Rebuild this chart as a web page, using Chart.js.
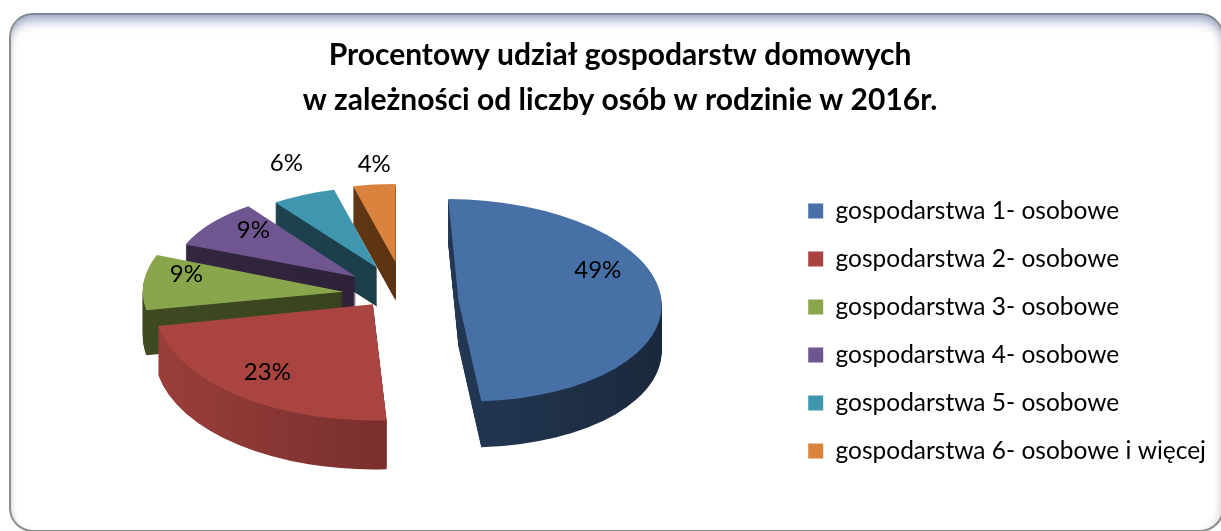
<!DOCTYPE html>
<html>
<head>
<meta charset="utf-8">
<script src="https://cdn.jsdelivr.net/npm/chart.js@4.4.1/dist/chart.umd.min.js"></script>
<style>
  html, body { margin: 0; padding: 0; background: #ffffff; overflow: hidden; }
  #wrap { position: relative; width: 1221px; height: 531px; }
  #frame {
    position: absolute; left: 9px; top: 13px; width: 1215px; height: 519px;
    box-sizing: border-box; border: 2px solid #8e8e8e; border-top-color: #7e8594;
    border-radius: 24px; background: #ffffff;
    box-shadow: inset 0 12px 12px -7px rgba(70, 90, 150, 0.55), inset -10px 0 10px -8px rgba(0,0,0,0.14), inset 4px 0 5px -3px rgba(0,0,0,0.12);
  }
  canvas { position: absolute; left: 0; top: 0; }
</style>
</head>
<body>
<div id="wrap">
  <div id="frame"></div>
  <canvas id="c" width="1221" height="531"></canvas>
</div>
<script>
// ---- data ----
const categories = [
  'gospodarstwa 1- osobowe',
  'gospodarstwa 2- osobowe',
  'gospodarstwa 3- osobowe',
  'gospodarstwa 4- osobowe',
  'gospodarstwa 5- osobowe',
  'gospodarstwa 6- osobowe i więcej'
];
const shares = [49, 23, 9, 9, 6, 4];
const titleLines = [
  'Procentowy udział gospodarstw domowych',
  'w zależności od liczby osób w rodzinie w 2016r.'
];

// ---- style ----
const topColors   = ['#4771A6', '#A94441', '#89A64C', '#6F5691', '#4096AF', '#D9833E'];
const sideLeft    = ['#2c4568', '#9a3e3b', '#3e4a22', '#33273f', '#1f4552', '#6b3c16'];
const sideRight   = ['#1a283c', '#5a2220', '#333e1c', '#261d31', '#183642', '#4e2c10'];
const explode     = [55, 34, 62, 68, 75, 84];
const explodeTurn = [14, 22, 0, 0, 0, 0];
const shear       = [0.1, 0, 0, 0, 0, 0];
const labelPos    = [0.688, 0.788, 0.786, 0.709, 1.228, 0.995];
const labelLift   = [-28, -4, -10, -9, -15, -21];

const pie3d = {
  id: 'pie3d',
  beforeDatasetsDraw(chart, args, o) {
    const ctx = chart.ctx;
    const arcs = chart.getDatasetMeta(0).data;
    if (!arcs.length) return false;
    const cx = arcs[0].x, cy = arcs[0].y, R = arcs[0].outerRadius;
    const geo = arcs.map((el, i) => {
      const mid = (el.startAngle + el.endAngle) / 2;
      const sn = Math.sin(mid);
      const s = 1 + (sn > 0 ? o.perspFront : o.perspBack) * sn;
      const ang = mid + (explodeTurn[i] || 0) * Math.PI / 180;
      const e = explode[i] || 0;
      return { el, i, mid, s, t: o.tilt * (1 + o.perspY * sn), sh: shear[i] || 0,
               ex: e * Math.cos(ang), ey: e * Math.sin(ang), depth: Math.round(o.depth * s) };
    });
    const apply = (g, dy) => {
      ctx.translate(cx, cy + dy);
      ctx.transform(g.s, 0, g.sh * g.s * g.t, g.s * g.t, 0, 0);
      ctx.translate(-cx + g.ex, -cy + g.ey);
    };
    const drawWith = (g, fill) => {
      const fake = Object.create(g.el);
      fake.options = Object.assign({}, g.el.options, { backgroundColor: fill, borderWidth: 0 });
      g.el.draw.call(fake, ctx);
    };
    const order = geo.slice().sort((a, b) => Math.sin(a.mid) - Math.sin(b.mid));
    order.forEach(g => {
      for (let layer = g.depth; layer >= 1; layer--) {
        ctx.save();
        apply(g, -o.lift + layer);
        const grad = ctx.createLinearGradient(cx - R, 0, cx + R, 0);
        grad.addColorStop(0, sideLeft[g.i]);
        grad.addColorStop(1, sideRight[g.i]);
        drawWith(g, grad);
        ctx.restore();
      }
    });
    geo.forEach(g => {
      ctx.save();
      apply(g, -o.lift);
      drawWith(g, topColors[g.i]);
      ctx.restore();
    });
    // labels
    ctx.save();
    ctx.font = o.labelFont;
    ctx.fillStyle = '#000';
    ctx.textAlign = 'center';
    ctx.textBaseline = 'middle';
    const data = chart.data.datasets[0].data;
    geo.forEach(g => {
      const d = labelPos[g.i] * R;
      const u = g.ex + d * Math.cos(g.mid), v = g.ey + d * Math.sin(g.mid);
      const x = cx + g.s * u + g.sh * g.s * g.t * v;
      const y = cy - o.lift + g.s * g.t * v + labelLift[g.i];
      ctx.fillText(data[g.i] + '%', x, y);
    });
    ctx.restore();
    return false;
  }
};

Chart.defaults.font.family = 'Lato, "Open Sans", sans-serif';
Chart.defaults.color = '#000';

new Chart(document.getElementById('c'), {
  type: 'pie',
  data: {
    labels: categories,
    datasets: [{
      data: shares,
      backgroundColor: topColors,
      borderWidth: 0,
      radius: 204
    }]
  },
  options: {
    responsive: false,
    animation: false,
    events: [],
    layout: { padding: { top: 12, bottom: 42, left: 24, right: 5 } },
    plugins: {
      title: {
        display: true,
        text: titleLines,
        color: '#000',
        font: { family: 'Lato', size: 30, weight: 'bold', lineHeight: 1.5 },
        padding: { top: 20.5, bottom: 5.5 }
      },
      legend: {
        position: 'right',
        align: 'start',
        fullSize: false,
        title: { display: true, text: '', font: { size: 10, lineHeight: 1.2 }, padding: { top: 35.25, bottom: 0 } },
        labels: {
          boxWidth: 15, boxHeight: 15, padding: 23.5, color: '#000',
          font: { family: 'Lato', size: 24.5 }
        }
      },
      tooltip: { enabled: false },
      pie3d: { tilt: 0.5, perspY: 0.08, depth: 46, perspFront: 0.09, perspBack: 0.165, lift: 14, labelFont: '24px Lato' }
    }
  },
  plugins: [pie3d]
});
</script>
</body>
</html>
